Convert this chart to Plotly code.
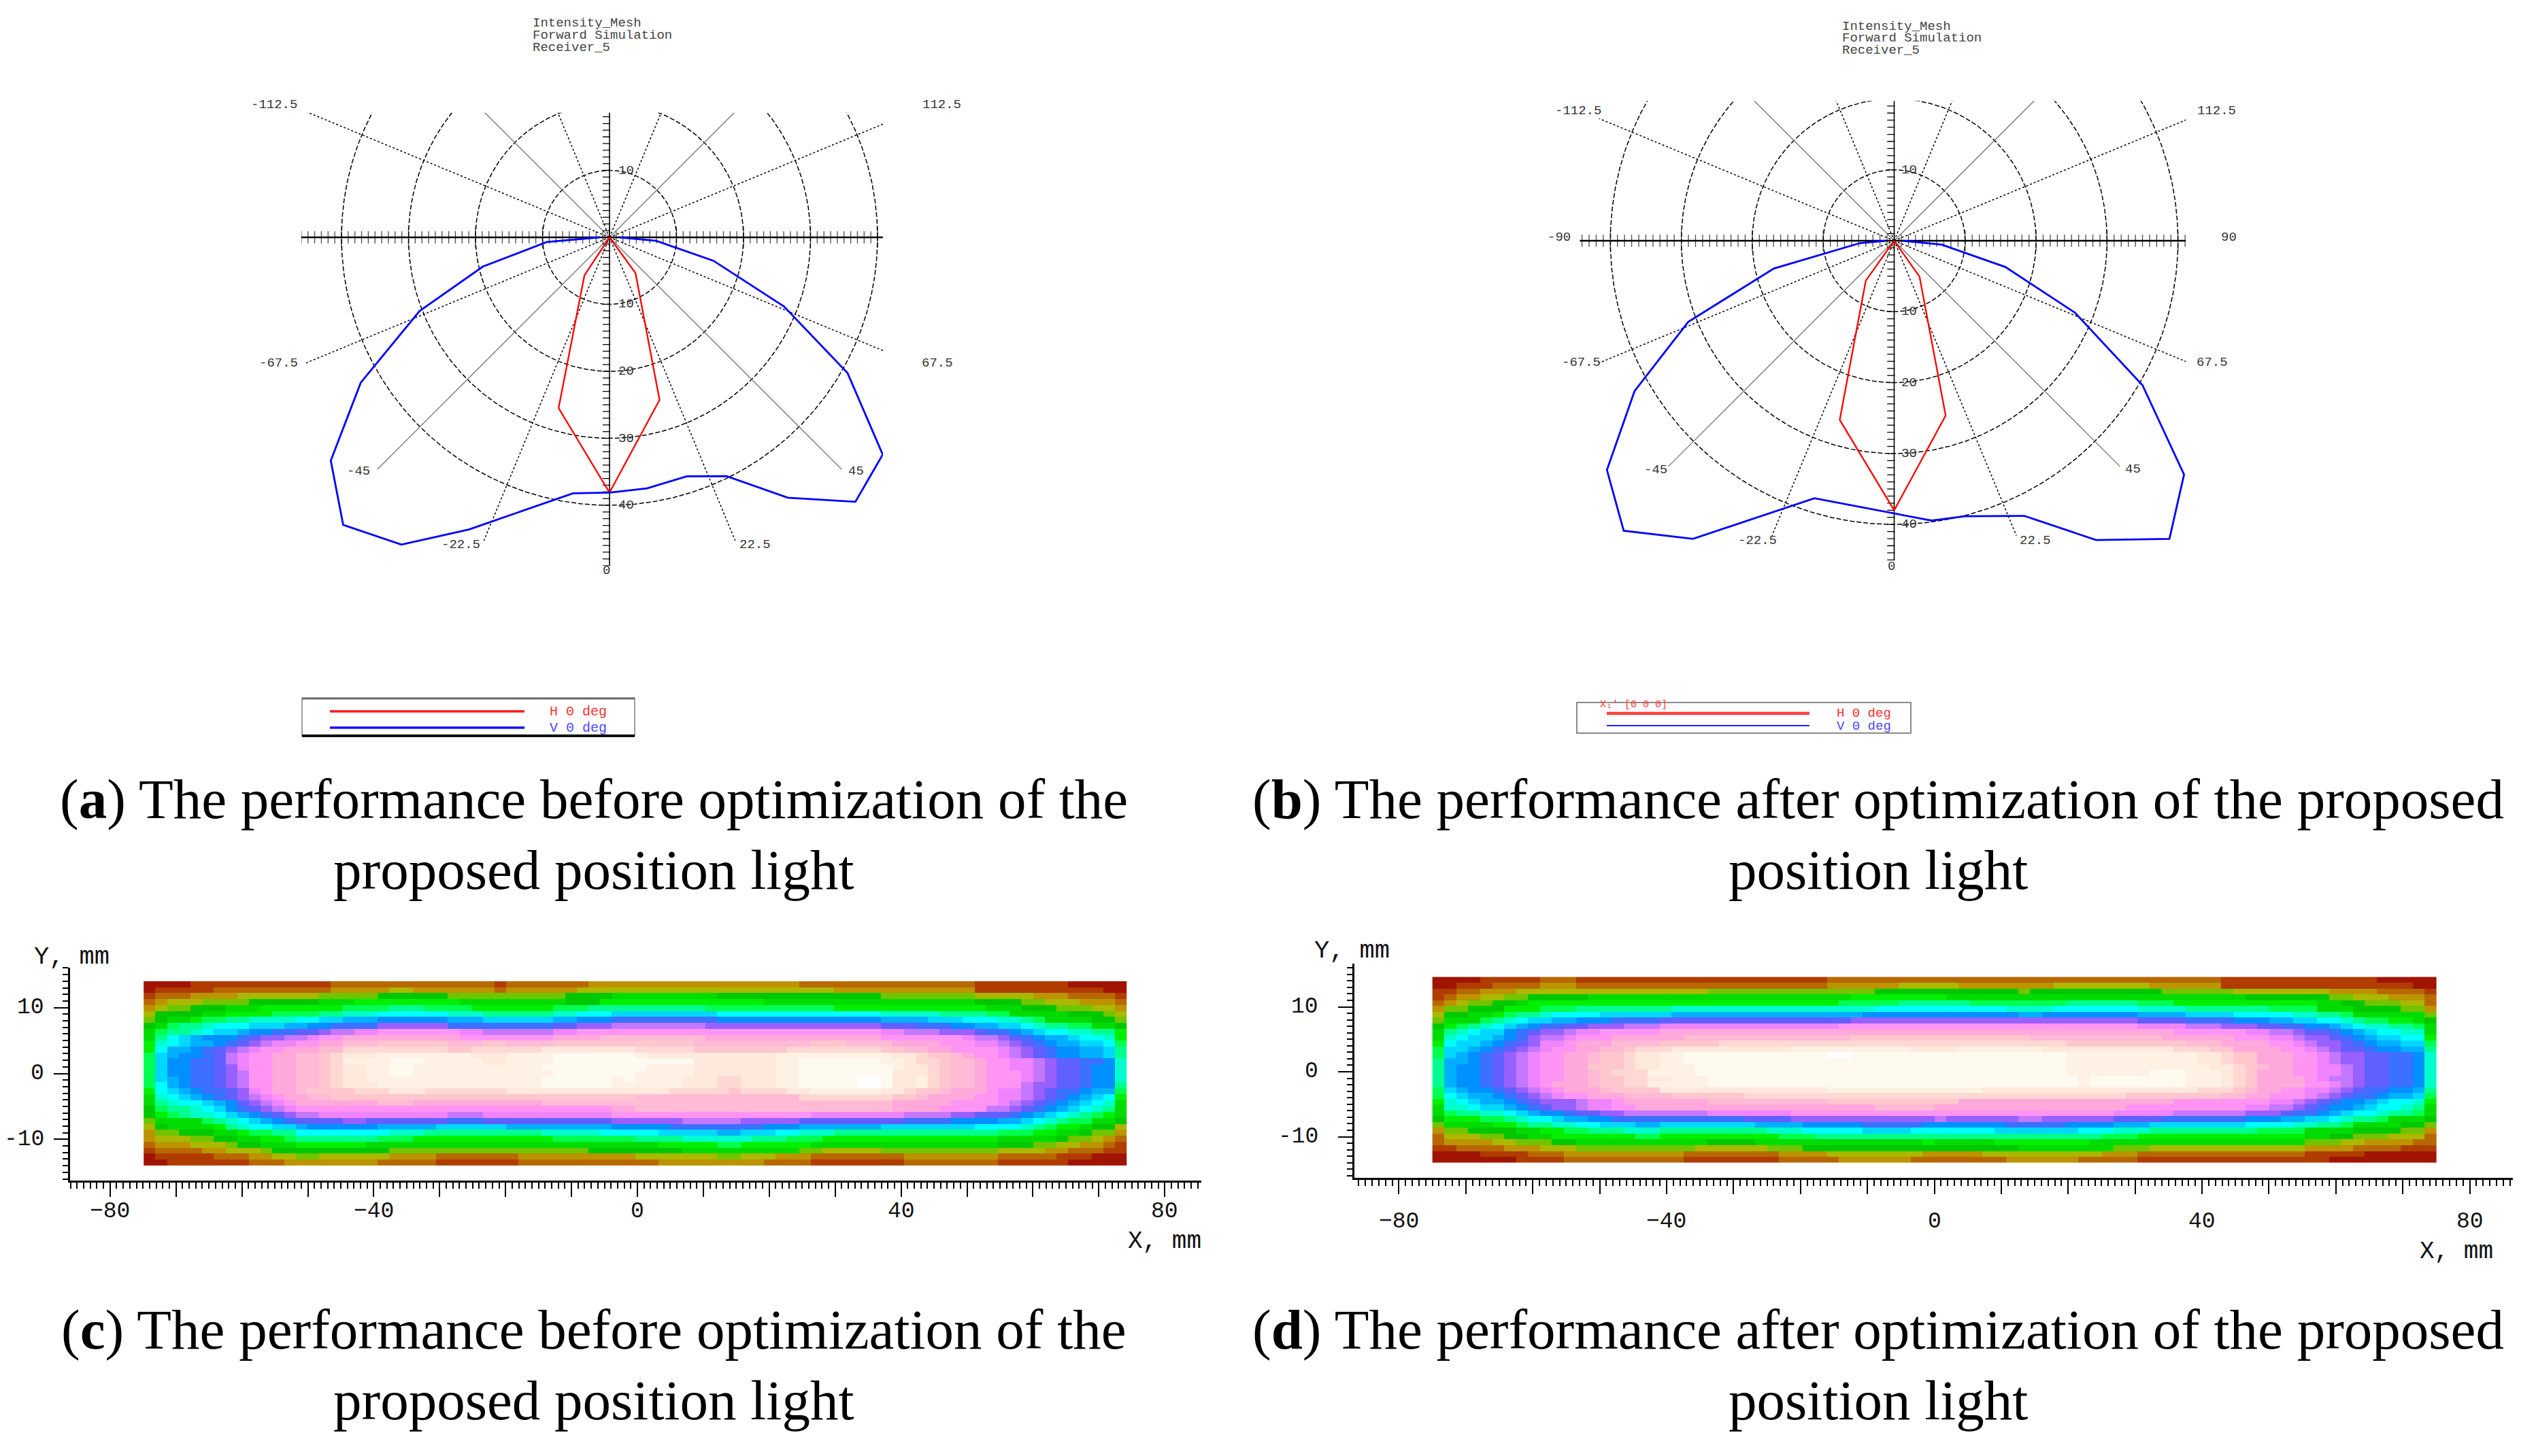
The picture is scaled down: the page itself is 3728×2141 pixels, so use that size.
import numpy as np
import plotly.graph_objects as go

W, H = 3728, 2141

# ---------------------------------------------------------------- data
# polar intensity curves: angle (deg, 0 = nadir, + to the right) and intensity
H_A_ANGLE = [-90, -33.4, -16.6, 0, 17.1, 36.0, 90]
H_A_VALUE = [0, 6.8, 26.6, 38.1, 25.4, 6.6, 0]
V_A_ANGLE = [-90, -85.7, -77.0, -68.8, -59.7, -51.3, -42.8, -34.1, -25.7, -8.1, 0,
             8.5, 17.9, 26.1, 34.4, 42.9, 51.5, 60.3, 68.4, 77.3, 85.7, 90]
V_A_VALUE = [1.5, 9.4, 19.4, 30.4, 43.0, 53.3, 58.5, 55.4, 48.4, 38.6, 38.1,
             37.9, 37.5, 39.7, 47.1, 53.9, 52.1, 40.9, 28.0, 15.9, 7.0, 1.5]

H_B_ANGLE = [-90, -35.4, -16.9, 0, 16.4, 35.2, 90]
H_B_VALUE = [0, 6.9, 26.4, 38.0, 25.7, 6.2, 0]
V_B_ANGLE = [-90, -86.0, -77.0, -68.5, -59.9, -51.4, -43.0, -34.0, -17.2, 7.6,
             14.4, 25.3, 34.0, 42.7, 51.1, 59.8, 68.3, 76.7, 85.4, 90]
V_B_VALUE = [1.2, 4.85, 17.4, 31.2, 42.3, 51.8, 55.9, 50.7, 38.0, 39.8,
             40.1, 42.9, 50.9, 57.2, 52.5, 40.5, 27.4, 16.1, 6.7, 1.2]

RADIAL_TICKS = [10, 20, 30, 40]
ANGLE_STEP = 22.5
TITLE_LINES = ["Intensity_Mesh", "Forward Simulation", "Receiver_5"]
LEGEND_NAMES = ["H 0 deg", "V 0 deg"]

X_TICK_LABELS = [-80, -40, 0, 40, 80]
Y_TICK_LABELS = [10, 0, -10]

# illuminance maps, colour level per cell (level*count runs), top row first
HEAT_C_ROWS = [
    "0*4 1*12 2*14 1*1 2*7 3*4 3*14 2*15 1*8 0*5",
    "0*1 1*5 2*10 3*5 4*2 3*7 2*1 3*6 4*5 4*17 3*12 1*11 0*2",
    "1*1 2*3 3*4 4*7 5*5 6*6 5*10 6*4 7*2 7*7 6*14 5*8 4*5 3*3 2*4 1*1",
    "2*1 3*1 4*3 5*4 6*6 7*3 8*9 7*9 6*3 8*3 8*11 7*18 6*4 5*2 4*3 3*3 2*1",
    "3*1 4*1 5*2 6*3 7*3 8*7 9*4 10*3 9*4 8*7 9*3 10*4 10*6 9*11 8*13 7*3 6*3 5*3 4*2 3*1",
    "4*1 6*4 7*2 8*4 9*4 10*2 11*3 12*6 11*3 10*6 11*2 12*3 13*2 13*7 12*14 11*5 10*4 9*2 7*5 6*3 5*1 4*1",
    "5*1 6*1 7*2 8*1 9*2 10*2 11*4 12*2 13*2 14*3 15*6 14*3 13*6 14*2 15*3 16*2 16*7 15*14 14*4 13*3 12*3 11*2 10*1 9*1 7*4 6*2 5*1",
    "6*1 7*1 9*1 10*2 11*1 12*3 13*3 14*2 15*2 16*4 18*6 16*9 17*2 18*3 19*2 19*6 18*15 17*3 16*3 15*2 14*2 13*2 12*1 11*1 10*2 9*2 7*2 6*1",
    "7*1 9*1 10*2 11*1 12*1 13*2 14*1 15*2 16*2 17*2 18*1 19*2 20*2 21*7 20*2 19*6 20*2 21*5 21*21 20*2 19*3 18*3 17*1 16*2 15*1 14*1 13*1 12*2 11*2 10*2 8*1",
    "7*1 10*1 12*1 13*1 14*1 15*3 16*1 17*1 18*2 19*2 20*1 21*2 22*10 21*8 22*4 23*3 23*6 22*15 21*7 20*1 19*2 18*1 17*1 16*1 15*1 14*2 13*1 12*2 11*1 8*1",
    "8*1 11*1 12*1 13*1 14*2 15*1 16*1 17*1 18*1 19*1 20*2 21*2 22*2 23*3 24*6 23*3 24*2 23*4 24*7 24*5 23*10 24*3 23*4 22*4 21*3 20*2 19*1 18*1 17*1 16*1 15*1 14*2 13*2 12*1 9*1",
    "8*1 12*1 14*2 15*1 16*1 17*1 18*1 19*1 20*1 21*2 22*3 23*2 25*9 24*2 25*6 26*8 25*5 24*8 25*8 24*2 23*2 22*2 21*4 20*1 19*1 18*1 17*1 16*1 15*2 14*2 13*1 10*1",
    "9*1 13*1 14*1 15*2 16*1 17*1 19*1 20*1 21*2 22*2 23*2 24*1 25*1 26*3 27*8 26*3 27*4 28*7 27*1 26*11 27*10 26*2 25*1 24*2 23*1 22*1 21*2 20*1 19*1 18*1 17*1 16*1 15*2 14*2 13*1 10*1",
    "9*1 13*1 15*2 16*2 17*1 19*1 20*1 21*2 22*2 23*2 24*1 25*1 27*4 28*3 27*5 26*2 27*4 28*7 28*5 26*7 27*2 28*7 27*2 26*1 25*2 24*1 23*2 22*1 21*2 20*2 19*1 18*1 17*2 16*2 15*1 11*1",
    "9*1 13*1 15*2 16*2 17*1 18*1 20*1 21*2 22*2 23*2 24*1 25*1 26*2 27*2 28*2 27*11 28*8 28*1 27*4 26*7 27*2 28*8 27*1 26*2 25*1 24*1 23*2 22*1 21*2 20*2 19*1 18*1 17*2 16*1 15*2 11*1",
    "9*1 13*1 15*2 16*2 17*1 18*1 19*1 21*2 22*2 23*2 24*1 25*1 26*2 27*2 28*2 27*12 28*7 27*5 26*7 27*2 28*8 26*3 25*1 24*1 23*2 22*1 21*3 20*1 19*1 18*1 17*2 16*1 15*2 11*1",
    "9*1 13*1 14*1 15*1 16*2 17*1 18*1 19*1 21*2 22*2 23*2 24*1 25*1 26*2 27*15 28*6 27*1 28*1 27*4 26*3 25*2 26*3 27*2 28*5 29*2 28*1 26*2 27*1 25*1 24*1 23*2 22*1 21*3 20*1 19*1 18*1 17*2 16*1 15*2 11*1",
    "9*1 12*1 14*1 15*1 16*2 17*1 18*1 19*1 21*2 22*2 23*2 24*1 25*1 26*3 27*14 28*6 27*2 27*4 26*3 25*2 26*3 27*2 28*5 29*2 28*1 26*2 27*1 25*1 24*1 23*2 22*1 21*3 19*1 18*2 17*2 16*1 15*2 10*1",
    "8*1 12*1 13*1 14*1 15*1 16*2 17*1 18*1 20*1 21*1 22*2 23*1 24*4 25*3 26*3 25*7 26*11 26*3 25*5 24*1 25*4 26*2 27*6 26*2 25*1 24*2 23*1 22*3 21*1 20*2 19*1 18*1 17*1 16*2 15*1 14*2 9*1",
    "7*1 11*1 12*1 13*1 14*1 15*1 16*1 17*1 18*1 19*1 20*1 21*1 22*2 23*2 24*26 23*14 25*8 24*2 23*1 22*4 21*2 20*2 19*1 18*1 17*1 16*1 15*1 14*1 13*1 12*1 8*1",
    "7*1 10*1 11*1 12*2 13*1 14*1 15*1 17*1 18*1 19*1 20*1 21*1 22*7 23*3 22*11 23*8 23*22 22*5 21*4 20*1 19*1 18*1 17*1 16*1 15*1 14*1 13*1 12*1 11*1 7*1",
    "6*1 9*1 10*2 11*1 12*1 13*1 15*1 16*1 17*1 18*1 19*1 20*1 21*27 22*2 23*22 22*4 21*4 19*2 18*1 17*1 16*1 15*1 14*1 13*1 12*1 11*1 10*1 7*1",
    "6*1 8*1 9*1 10*1 11*2 12*1 13*1 14*1 15*1 16*1 17*1 18*1 19*2 20*11 19*3 20*11 21*2 21*15 20*8 19*4 18*2 17*3 16*1 15*1 14*1 13*1 12*1 11*1 10*1 9*1 8*1 7*1",
    "5*1 7*4 9*1 10*1 11*1 12*1 13*1 14*1 15*1 16*1 17*4 18*2 17*7 16*3 17*11 18*2 18*4 19*5 18*5 17*9 16*4 15*4 14*2 13*1 12*1 11*1 10*1 9*2 7*2 6*1",
    "4*1 6*1 7*4 8*1 10*1 11*1 12*2 13*2 14*1 15*6 14*5 13*6 14*9 15*2 15*3 16*8 15*3 14*7 13*8 12*4 11*1 10*1 9*1 8*2 7*1 6*2 4*1",
    "3*1 5*2 6*3 7*2 8*1 9*2 10*2 12*8 11*3 10*10 11*5 12*3 12*2 13*5 14*2 13*3 12*2 11*3 10*14 9*3 8*2 7*2 6*1 5*2 3*1",
    "3*1 4*3 5*2 6*2 7*2 8*2 9*1 10*7 9*3 8*12 9*7 10*4 11*6 10*3 9*3 8*15 7*5 6*1 5*2 4*1 3*1 2*1",
    "2*1 3*3 4*3 5*1 6*2 7*3 8*6 7*23 7*2 8*5 9*2 8*6 7*16 6*3 5*2 4*2 3*2 2*1 1*1",
    "1*1 2*4 3*2 4*3 5*1 6*10 5*17 6*4 6*4 7*10 5*2 4*5 5*10 4*4 3*2 2*3 1*2",
    "0*1 1*5 2*3 3*2 4*2 5*2 4*6 3*4 2*7 3*10 4*7 5*2 4*3 3*3 2*8 3*8 2*5 1*3 0*3",
    "0*2 1*7 2*3 3*8 2*5 1*7 2*10 2*2 3*9 2*4 1*8 2*8 1*6 0*5",
]

HEAT_D_ROWS = [
    "0*4 1*5 2*3 1*21 2*9 2*24 1*13 0*5",
    "0*2 1*3 2*4 3*3 2*21 3*6 4*3 4*2 3*8 4*8 3*6 1*11 1*5 0*2",
    "1*2 2*2 3*3 4*16 5*14 6*5 6*7 5*1 6*11 5*6 4*8 3*4 2*4 1*1",
    "1*1 2*1 3*2 4*2 5*2 6*5 7*22 8*6 8*1 8*1 7*19 7*6 6*7 5*2 4*3 3*3 2*1",
    "2*1 3*1 4*1 5*2 6*2 7*1 8*4 8*22 9*5 10*3 10*3 9*8 10*6 9*3 8*12 7*2 6*2 5*3 4*2 2*1",
    "3*1 5*2 6*3 8*3 9*3 10*8 11*17 12*5 12*6 11*4 12*7 11*4 10*7 9*4 7*3 6*4 5*2 3*1",
    "4*1 6*2 7*2 8*1 9*1 10*2 11*1 12*4 13*6 14*16 15*6 15*7 14*2 15*8 14*4 13*4 12*5 11*2 10*2 9*1 7*6 5*1",
    "5*1 7*3 9*1 10*1 11*1 12*1 13*2 14*2 15*3 16*4 17*16 18*7 18*17 17*4 16*4 15*3 14*2 13*2 12*2 11*1 10*1 9*2 8*2 7*1 6*1",
    "6*1 8*1 9*1 10*1 11*1 12*1 13*1 14*1 15*1 16*2 17*2 18*3 19*3 20*15 21*8 21*17 20*4 19*3 18*3 17*2 16*2 15*2 14*1 13*1 12*1 11*2 10*2 9*1 7*1",
    "7*1 10*1 11*1 12*1 13*2 15*1 16*1 17*1 18*2 19*1 20*2 21*5 22*23 22*20 21*6 20*2 19*2 18*1 17*2 16*1 15*1 14*1 13*1 12*2 11*2 7*1",
    "7*1 11*1 12*1 13*2 14*1 15*1 16*1 18*1 19*2 20*1 21*3 22*6 23*14 24*7 24*8 23*11 22*6 21*3 20*2 19*1 18*2 17*1 16*1 15*1 14*1 13*2 12*2 8*1",
    "8*1 12*1 13*2 14*1 15*1 16*1 17*1 18*1 20*2 21*1 22*3 23*4 24*5 25*18 25*11 24*10 23*3 22*4 21*2 20*1 19*1 18*2 17*1 16*1 15*1 14*2 13*2 9*1",
    "9*1 13*2 14*1 15*1 16*1 17*1 18*1 19*1 20*1 21*2 22*2 23*2 24*1 25*3 26*10 27*10 26*2 26*2 27*7 26*11 25*3 24*2 22*4 21*2 20*1 19*1 18*1 17*2 16*1 15*2 14*2 10*1",
    "9*1 13*1 14*1 15*1 16*1 17*1 18*1 19*1 20*1 21*2 22*2 23*1 24*2 25*1 26*2 27*2 28*12 29*2 28*7 28*11 27*11 26*2 25*1 24*2 22*3 21*2 20*1 19*1 18*2 17*2 16*2 15*1 11*1",
    "10*1 14*2 15*1 16*1 17*1 18*1 19*1 20*1 21*2 22*2 23*1 24*2 25*1 26*2 27*2 28*21 28*11 27*11 26*2 25*1 24*2 22*3 21*2 20*1 19*1 18*2 17*2 16*2 15*1 11*1",
    "10*1 14*1 15*2 16*1 17*1 18*1 19*1 20*1 21*2 22*2 24*3 25*1 26*2 27*3 28*20 28*11 27*12 26*2 25*1 24*1 23*1 22*2 21*2 20*2 19*1 18*1 17*2 16*2 15*1 11*1",
    "10*1 14*1 15*2 16*1 17*1 18*1 19*1 20*1 21*2 22*2 23*1 24*1 25*3 27*4 28*20 28*11 27*7 28*3 27*3 26*1 25*1 24*1 22*3 21*2 20*2 19*1 18*1 17*2 16*2 15*1 11*1",
    "10*1 14*1 15*2 16*1 17*1 18*1 19*1 20*1 21*2 22*2 23*1 24*2 25*2 26*2 27*3 28*19 28*12 27*1 28*8 27*3 26*1 25*1 24*1 22*4 21*1 20*1 19*2 18*1 17*2 16*2 15*1 11*1",
    "10*1 14*1 15*2 16*1 17*1 18*1 19*1 20*1 21*1 22*3 23*1 24*2 25*2 27*5 28*19 28*12 27*1 28*8 27*3 26*1 25*1 24*1 22*4 21*2 20*1 19*1 18*1 17*2 16*2 15*1 11*1",
    "9*1 13*1 14*1 15*2 16*1 17*1 18*1 19*1 20*1 21*1 22*3 23*1 24*4 26*14 27*9 27*4 26*18 25*3 24*1 23*1 22*2 21*2 20*2 19*1 18*1 17*1 16*2 15*2 14*1 10*1",
    "9*1 12*1 13*1 14*2 15*1 16*1 17*1 18*1 19*1 20*1 21*2 22*3 23*4 24*6 25*16 25*16 24*8 23*2 22*2 21*3 20*1 19*1 18*1 17*1 16*2 15*1 14*2 13*1 9*1",
    "8*1 11*1 12*1 13*1 14*2 15*1 16*1 17*1 18*3 19*1 20*2 21*1 22*7 23*10 24*9 24*2 22*18 21*8 20*2 19*1 18*1 17*1 16*1 15*2 14*1 13*1 12*2 11*1 8*1",
    "7*1 11*2 12*1 13*2 14*1 15*1 16*1 17*1 18*2 19*1 20*2 21*2 22*20 23*5 22*16 21*10 20*2 19*2 18*1 17*1 16*1 15*2 14*1 13*1 12*2 11*1 10*1 7*1",
    "7*1 9*1 10*2 11*2 12*1 13*1 14*1 15*2 16*1 17*2 18*2 19*7 20*7 21*12 21*15 20*5 19*6 18*3 17*1 16*2 15*1 14*1 13*1 12*2 11*1 10*2 9*1 7*1",
    "6*1 8*3 9*2 10*1 11*1 12*2 13*1 14*2 15*2 16*11 17*4 18*12 19*1 18*6 19*2 18*6 17*4 16*7 15*3 14*2 13*2 12*1 11*1 10*2 9*1 7*3 6*1",
    "5*1 7*4 8*2 9*1 10*2 11*2 12*2 13*3 14*2 13*8 14*4 15*5 16*5 15*1 15*6 16*5 15*4 14*3 13*8 12*4 11*2 10*2 9*1 7*4 6*2 5*1",
    "3*1 5*2 6*4 7*2 8*2 9*2 10*3 11*3 10*9 11*3 12*5 13*4 12*2 12*5 13*7 12*3 11*3 10*9 9*4 7*4 6*4 5*2 3*1",
    "2*1 4*3 5*2 6*2 7*2 8*7 9*2 8*10 9*3 10*10 10*14 9*3 8*14 7*2 6*2 5*3 4*3 2*1",
    "2*1 3*4 4*2 5*3 6*2 7*11 6*4 7*14 8*1 7*5 8*8 7*18 5*3 4*2 3*4 2*2",
    "1*2 2*4 3*3 4*3 5*10 4*6 5*3 6*11 6*7 7*8 5*3 4*13 3*4 2*4 1*3",
    "0*4 1*4 2*3 3*10 2*8 3*4 4*8 3*1 3*4 4*10 3*3 2*14 1*5 0*6",
    "0*7 1*4 2*10 1*8 2*5 3*6 2*2 2*6 3*6 2*5 1*16 0*9",
]

LEVEL_COLORS = [
    "#a01400", "#b03c00", "#b86800", "#bc9400", "#aab800", "#70c400", "#00c800",
    "#00dc00", "#00f000", "#00ff50", "#00ff90", "#00ffcc", "#00ffff", "#00d8ff",
    "#00b0ff", "#0090ff", "#3c70ff", "#6060ff", "#9860ff", "#c478ff", "#f084ff",
    "#ff94f4", "#ffa8dc", "#ffbad6", "#ffc6ce", "#ffd8d4", "#ffe8dc", "#fff2e4",
    "#fffaf0", "#ffffff",
]

CAPTIONS = [
    ("a", "The performance before optimization of the", "proposed position light"),
    ("b", "The performance after optimization of the proposed", "position light"),
    ("c", "The performance before optimization of the", "proposed position light"),
    ("d", "The performance after optimization of the proposed", "position light"),
]

# ---------------------------------------------------------------- layout constants (pixels)
MONO = "Liberation Mono"
SERIF = "Liberation Serif"

POLAR = {
    "a": dict(cx=896, cy=349, s=9.85, xlo=-46.0, xhi=40.8, ylo=-49.0, yhi=18.6, rmax=49.0,
              title_x=781, title_y=[34, 52, 70], rlab_dx=11,
              labels={-112.5: (403, 154), 112.5: (1384, 154), -67.5: (409, 534),
                      67.5: (1378, 534), -45: (527, 693), 45: (1258, 693),
                      -22.5: (677, 801), 22.5: (1110, 801), 0: (891, 839)}),
    "b": dict(cx=2784.5, cy=354, s=10.43, xlo=-44.3, xhi=41.1, ylo=-45.2, yhi=19.7, rmax=45.0,
              title_x=2706, title_y=[39, 56, 74], rlab_dx=8,
              labels={-112.5: (2320, 163), 112.5: (3258, 163), -90: (2292, 349),
                      90: (3276, 349), -67.5: (2324, 533), 67.5: (3252, 533),
                      -45: (2434, 691), 45: (3135, 690), -22.5: (2583, 795),
                      22.5: (2992, 795), 0: (2780, 833)}),
}

HEAT = {
    "c": dict(x_px=(102.7, 1766), cx=937, sx=9.69, y_px=(1423, 1736), cy=1578.5, sy=9.69,
              ext_x=(-74.9, 74.2), ext_y=(-14.0, 14.0), xlab_y=1781, ylab_x=67,
              xt=(1712, 1825), yt=(105.5, 1407)),
    "d": dict(x_px=(1991, 3694), cx=2843.5, sx=9.838, y_px=(1417, 1732), cy=1576, sy=9.55,
              ext_x=(-75.0, 75.0), ext_y=(-14.0, 14.6), xlab_y=1796, ylab_x=1940,
              xt=(3611, 1840), yt=(1988, 1398)),
}

CAPTION_POS = {"a": (872.6, 1174.7, 1279), "b": (2760.8, 1174.7, 1279),
               "c": (872.6, 1954.7, 2059), "d": (2760.8, 1954.7, 2059)}


# ---------------------------------------------------------------- helpers
def px(x):
    return x / W


def py(y):
    return 1 - y / H


def ann(text, x, y, size, color="#111", family=MONO, xanchor="center", yanchor="middle"):
    return dict(text=text, x=px(x), y=py(y), xref="paper", yref="paper", showarrow=False,
                font=dict(size=size, color=color, family=family),
                xanchor=xanchor, yanchor=yanchor)


def pline(x0, y0, x1, y1, color, width):
    return dict(type="line", xref="paper", yref="paper", x0=px(x0), y0=py(y0),
                x1=px(x1), y1=py(y1), line=dict(color=color, width=width))


def polar_xy(angle, value):
    a = np.radians(np.asarray(angle, dtype=float))
    r = np.asarray(value, dtype=float)
    return r * np.sin(a), -r * np.cos(a)


def expand(row):
    out = []
    for tok in row.split():
        lv, n = tok.split("*")
        out += [int(lv)] * int(n)
    return out


def to_grid(rows, ncol=84):
    grid = []
    for r in rows:
        v = expand(r)
        if len(v) < ncol:
            v = v + [v[-1]] * (ncol - len(v))
        grid.append(v[:ncol])
    return grid


fig = go.Figure()
annotations = []
shapes = []
axes = {}

# ---------------------------------------------------------------- polar panels
curves = {"a": (H_A_ANGLE, H_A_VALUE, V_A_ANGLE, V_A_VALUE),
          "b": (H_B_ANGLE, H_B_VALUE, V_B_ANGLE, V_B_VALUE)}

for k, key in enumerate(["a", "b"], start=1):
    P = POLAR[key]
    xa = "x" if k == 1 else f"x{k}"
    ya = "y" if k == 1 else f"y{k}"
    cx, cy, s = P["cx"], P["cy"], P["s"]
    axes["xaxis" if k == 1 else f"xaxis{k}"] = dict(
        domain=[px(cx + P["xlo"] * s), px(cx + P["xhi"] * s)], range=[P["xlo"], P["xhi"]],
        visible=False, fixedrange=True, anchor=ya)
    axes["yaxis" if k == 1 else f"yaxis{k}"] = dict(
        domain=[py(cy - P["ylo"] * s), py(cy - P["yhi"] * s)], range=[P["ylo"], P["yhi"]],
        visible=False, fixedrange=True, anchor=xa)
    rmax = P["rmax"]

    # dashed circles
    t = np.linspace(0, 2 * np.pi, 721)
    for r in RADIAL_TICKS:
        fig.add_trace(go.Scatter(x=r * np.cos(t), y=r * np.sin(t), mode="lines",
                                 line=dict(color="#000", width=1.5, dash="7px,3px"),
                                 xaxis=xa, yaxis=ya, hoverinfo="skip", showlegend=False))
    # spokes
    for a in np.arange(-157.5, 180.0, ANGLE_STEP):
        if abs(a) < 1e-6 or abs(abs(a) - 90) < 1e-6:
            continue
        sx_, sy_ = polar_xy([a, a], [0, rmax])
        if abs(a) % 45 < 1e-6:
            ln = dict(color="#7a7a7a", width=1.4)
        else:
            ln = dict(color="#000", width=1.5, dash="dot")
        fig.add_trace(go.Scatter(x=sx_, y=sy_, mode="lines", line=ln, xaxis=xa, yaxis=ya,
                                 hoverinfo="skip", showlegend=False))
    # main axes
    fig.add_trace(go.Scatter(x=[-rmax, rmax], y=[0, 0], mode="lines",
                             line=dict(color="#000", width=2.6), xaxis=xa, yaxis=ya,
                             hoverinfo="skip", showlegend=False))
    fig.add_trace(go.Scatter(x=[0, 0], y=[-rmax, rmax], mode="lines",
                             line=dict(color="#000", width=1.6), xaxis=xa, yaxis=ya,
                             hoverinfo="skip", showlegend=False))
    hx = np.arange(np.ceil(P["xlo"]), np.floor(P["xhi"]) + 1)
    fig.add_trace(go.Scatter(x=hx, y=np.zeros_like(hx), mode="markers",
                             marker=dict(symbol="line-ns", size=[22 if v % 10 == 0 else 13 for v in hx],
                                         line=dict(color="#000", width=1.3)),
                             xaxis=xa, yaxis=ya, hoverinfo="skip", showlegend=False))
    vy = np.arange(np.ceil(-rmax), np.floor(P["yhi"]) + 1)
    fig.add_trace(go.Scatter(x=np.full_like(vy, -0.45), y=vy, mode="markers",
                             marker=dict(symbol="line-ew", size=8, line=dict(color="#000", width=1.3)),
                             xaxis=xa, yaxis=ya, hoverinfo="skip", showlegend=False))
    # curves
    ha, hv, va, vv = curves[key]
    x_h, y_h = polar_xy(ha, hv)
    x_v, y_v = polar_xy(va, vv)
    fig.add_trace(go.Scatter(x=x_h, y=y_h, mode="lines", name=LEGEND_NAMES[0],
                             line=dict(color="#ff0000", width=2.3), xaxis=xa, yaxis=ya,
                             hoverinfo="skip", showlegend=False))
    fig.add_trace(go.Scatter(x=x_v, y=y_v, mode="lines", name=LEGEND_NAMES[1],
                             line=dict(color="#0000ff", width=2.8), xaxis=xa, yaxis=ya,
                             hoverinfo="skip", showlegend=False))

    # text: title, angle labels, radial labels
    for line, yy in zip(TITLE_LINES, P["title_y"]):
        annotations.append(ann(line, P["title_x"], yy, 19, color="#444", xanchor="left"))
    for ang, (lx, ly) in P["labels"].items():
        annotations.append(ann(f"{ang:g}", lx, ly, 19, color="#333"))
    annotations.append(ann(str(RADIAL_TICKS[0]), cx + P["rlab_dx"], cy - RADIAL_TICKS[0] * s,
                           19, color="#333", xanchor="left"))
    for r in RADIAL_TICKS:
        annotations.append(ann(str(r), cx + P["rlab_dx"], cy + r * s, 19, color="#333",
                               xanchor="left"))

# legends of the polar panels
shapes += [
    dict(type="rect", xref="paper", yref="paper", x0=px(444), y0=py(1082), x1=px(933), y1=py(1027),
         line=dict(color="#a0a0a0", width=2)),
    pline(444, 1027, 933, 1027, "#666", 3),
    pline(444, 1082, 933, 1082, "#111", 4),
    pline(485, 1046, 771, 1046, "#ff1a1a", 3.5),
    pline(485, 1070, 771, 1070, "#1010ff", 3.5),
    dict(type="rect", xref="paper", yref="paper", x0=px(2318), y0=py(1078), x1=px(2809), y1=py(1033),
         line=dict(color="#8a8a8a", width=2)),
    pline(2362, 1049, 2660, 1049, "#ff4040", 4.5),
    pline(2362, 1067, 2660, 1067, "#2020ff", 2.2),
]
annotations += [
    ann(LEGEND_NAMES[0], 806, 1046, 20, color="#ff3030", xanchor="left"),
    ann(LEGEND_NAMES[1], 806, 1070, 20, color="#4848ff", xanchor="left"),
    ann(LEGEND_NAMES[0], 2698, 1049, 19, color="#ff3030", xanchor="left"),
    ann(LEGEND_NAMES[1], 2698, 1068, 19, color="#4848ff", xanchor="left"),
    ann("X\u2081' [0 0 0]", 2350, 1036, 15, color="#ff4040", xanchor="left"),
]

# ---------------------------------------------------------------- heat maps
ncol = len(expand(HEAT_C_ROWS[0]))
nlev = len(LEVEL_COLORS)
colorscale = []
for i, c in enumerate(LEVEL_COLORS):
    colorscale.append([i / nlev, c])
    colorscale.append([(i + 1) / nlev, c])

for k, (key, rows) in enumerate([("c", HEAT_C_ROWS), ("d", HEAT_D_ROWS)], start=3):
    Hh = HEAT[key]
    xa, ya = f"x{k}", f"y{k}"
    xr = [(Hh["x_px"][0] - Hh["cx"]) / Hh["sx"], (Hh["x_px"][1] - Hh["cx"]) / Hh["sx"]]
    yr = [(Hh["cy"] - Hh["y_px"][1]) / Hh["sy"], (Hh["cy"] - Hh["y_px"][0]) / Hh["sy"]]
    tick_common = dict(showline=True, linecolor="#000", ticks="outside", tickcolor="#000",
                       tickmode="linear", tick0=0, dtick=10, ticklen=21, tickwidth=2.4,
                       showticklabels=False, showgrid=False, zeroline=False, fixedrange=True)
    axes[f"xaxis{k}"] = dict(domain=[px(Hh["x_px"][0]), px(Hh["x_px"][1])], range=xr, anchor=ya,
                             linewidth=3,
                             minor=dict(ticks="outside", tickmode="linear", tick0=0, dtick=1,
                                        ticklen=9, tickwidth=1.5, tickcolor="#000", showgrid=False),
                             **tick_common)
    axes[f"yaxis{k}"] = dict(domain=[py(Hh["y_px"][1]), py(Hh["y_px"][0])], range=yr, anchor=xa,
                             linewidth=2.5,
                             minor=dict(ticks="outside", tickmode="linear", tick0=0, dtick=1,
                                        ticklen=8, tickwidth=1.8, tickcolor="#000", showgrid=False),
                             **tick_common)
    grid = to_grid(rows, ncol)[::-1]
    nrow = len(grid)
    dx = (Hh["ext_x"][1] - Hh["ext_x"][0]) / ncol
    dy = (Hh["ext_y"][1] - Hh["ext_y"][0]) / nrow
    fig.add_trace(go.Heatmap(z=grid, x0=Hh["ext_x"][0] + dx / 2, dx=dx,
                             y0=Hh["ext_y"][0] + dy / 2, dy=dy,
                             colorscale=colorscale, zmin=-0.5, zmax=nlev - 0.5,
                             showscale=False, xaxis=xa, yaxis=ya, hoverinfo="skip"))
    for v in X_TICK_LABELS:
        annotations.append(dict(text=str(v).replace("-", "\u2212"), x=v, xref=xa,
                                y=py(Hh["xlab_y"]), yref="paper",
                                showarrow=False, font=dict(size=33, color="#111", family=MONO),
                                xanchor="center", yanchor="middle"))
    for v in Y_TICK_LABELS:
        annotations.append(dict(text=str(v), x=px(Hh["ylab_x"]), xref="paper", y=v, yref=ya,
                                showarrow=False, font=dict(size=33, color="#111", family=MONO),
                                xanchor="right", yanchor="middle"))
    annotations.append(ann("X, mm", Hh["xt"][0], Hh["xt"][1], 36))
    annotations.append(ann("Y, mm", Hh["yt"][0], Hh["yt"][1], 37))

# ---------------------------------------------------------------- captions
for letter, l1, l2 in CAPTIONS:
    x, y1, y2 = CAPTION_POS[letter]
    annotations.append(ann(f"(<b>{letter}</b>) {l1}", x, y1, 83, color="#000", family=SERIF))
    annotations.append(ann(l2, x, y2, 83, color="#000", family=SERIF))

fig.update_layout(
    width=W, height=H, margin=dict(l=0, r=0, t=0, b=0, pad=0),
    paper_bgcolor="white", plot_bgcolor="rgba(0,0,0,0)",
    showlegend=False, hovermode=False,
    annotations=annotations, shapes=shapes, **axes,
)

fig.write_html("out.html", config={"displayModeBar": False},
               post_script="document.body.style.margin='0';document.body.style.overflow='hidden';")
